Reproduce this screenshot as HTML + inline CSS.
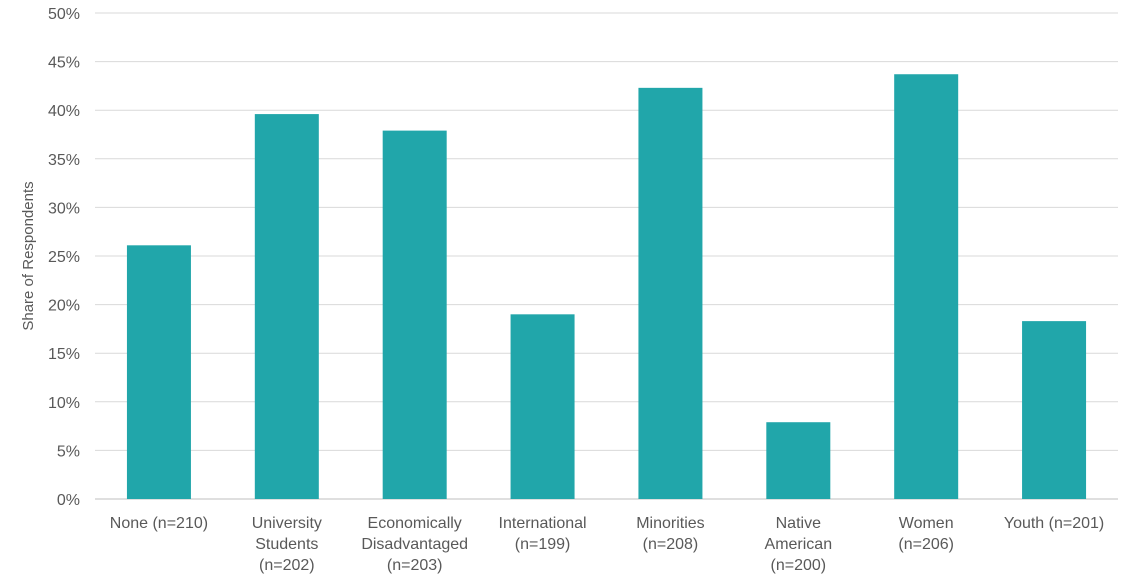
<!DOCTYPE html>
<html><head><meta charset="utf-8"><style>
body{margin:0;background:#fff;}
svg{display:block;font-family:"Liberation Sans",sans-serif;}
</style></head><body>
<svg id="chart" width="1133" height="582" viewBox="0 0 1133 582">
<g id="grid"></g><g id="bars"></g><g id="xlabels"></g>
<text transform="translate(33,256) rotate(-90)" text-anchor="middle" font-size="15" fill="#595959">Share of Respondents</text>
</svg>
<script>
const categories=[["None (n=210)"],["University","Students","(n=202)"],["Economically","Disadvantaged","(n=203)"],["International","(n=199)"],["Minorities","(n=208)"],["Native","American","(n=200)"],["Women","(n=206)"],["Youth (n=201)"]];
const values=[26.1,39.6,37.9,19.0,42.3,7.9,43.7,18.3];
const ticks=[0,5,10,15,20,25,30,35,40,45,50];
const ns="http://www.w3.org/2000/svg";
const x0=95,x1=1118,y0=499,y50=13;
const y=v=>y0-(v/50)*(y0-y50);
const step=(x1-x0)/categories.length;
const bw=64;
const grid=document.getElementById('grid'),bars=document.getElementById('bars'),xl=document.getElementById('xlabels');
ticks.forEach(t=>{
const l=document.createElementNS(ns,'line');


l.setAttribute('x1',x0);l.setAttribute('x2',x1);l.setAttribute('y1',y(t));l.setAttribute('y2',y(t));
l.setAttribute('stroke',t===0?'#bfbfbf':'#d9d9d9');l.setAttribute('stroke-width','1');
grid.appendChild(l);
const tx=document.createElementNS(ns,'text');


tx.setAttribute('x',80);tx.setAttribute('y',y(t)+6);tx.setAttribute('text-anchor','end');
tx.setAttribute('font-size','16');tx.setAttribute('fill','#595959');
tx.textContent=t+'%';grid.appendChild(tx);
});
values.forEach((v,i)=>{
const cx=x0+step*(i+0.5);
const r=document.createElementNS(ns,'rect');


r.setAttribute('x',cx-bw/2);r.setAttribute('y',y(v));r.setAttribute('width',bw);r.setAttribute('height',y0-y(v));
r.setAttribute('fill','#21a6aa');bars.appendChild(r);
const t=document.createElementNS(ns,'text');


t.setAttribute('text-anchor','middle');t.setAttribute('font-size','16');t.setAttribute('fill','#595959');
categories[i].forEach((s,j)=>{const ts=document.createElementNS(ns,'tspan');ts.setAttribute('x',cx);ts.setAttribute('y',528+j*21);ts.textContent=s;t.appendChild(ts);});
xl.appendChild(t);
});
</script>
</body></html>
